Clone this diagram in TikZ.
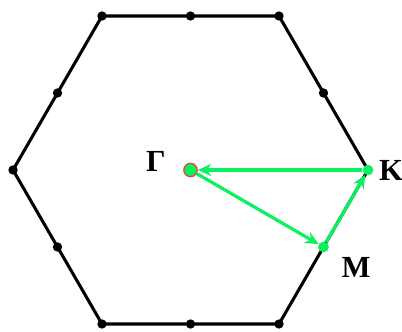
\documentclass[tikz,border=0pt]{standalone}
\usepackage{fontspec}
\setmainfont{Liberation Serif}
\usetikzlibrary{arrows.meta,positioning}
\definecolor{kgreen}{RGB}{10,240,95}
\definecolor{gred}{RGB}{235,70,60}

\begin{document}
\begin{tikzpicture}[x=0.75pt,y=-0.75pt,
  font=\fontsize{23}{26}\selectfont\bfseries,
  hexline/.style={line width=2.3pt,line join=round},
  dot/.style={circle,fill=black,inner sep=0pt,minimum size=7pt},
  gdot/.style={circle,fill=kgreen,inner sep=0pt,minimum size=8pt},
  kline/.style={draw=kgreen,line width=2.4pt,-{Stealth[length=10pt,width=9pt]}}]
  \useasboundingbox (0,0) rectangle (402,331);

  % corners and edge midpoints
  \foreach \n/\x/\y in {v1/13/170, m1/57.5/93, v2/102/16, m2/190.5/16,
                        v3/279/16, m3/323.5/93, v5/279/324, m5/190.5/324,
                        v6/102/324, m6/57.5/247}
    \coordinate (\n) at (\x,\y);
  \coordinate (v4) at (368,170);
  \coordinate (m4) at (323.5,247);

  \draw[hexline] (v1) -- (m1) -- (v2) -- (m2) -- (v3) -- (m3) -- (v4)
    -- (m4) -- (v5) -- (m5) -- (v6) -- (m6) -- cycle;

  \foreach \n in {v1,m1,v2,m2,v3,m3,v5,m5,v6,m6}
    \node[dot] at (\n) {};

  % high symmetry points
  \node[gdot] (K) at (v4) {};
  \node[gdot] (M) at (m4) {};
  \node[circle,fill=kgreen,draw=gred,line width=1pt,inner sep=0pt,
    minimum size=10pt] (G) at (190.5,170) {};

  \node (lG) at (156,161) {Γ};
  \node (lK) at (391,170) {K};
  \node (lM) at (356,267) {M};

  \draw[kline] (K) -- (G);
  \draw[kline] (G) -- (M);
  \draw[kline] (M) -- (K);
\end{tikzpicture}
\end{document}
